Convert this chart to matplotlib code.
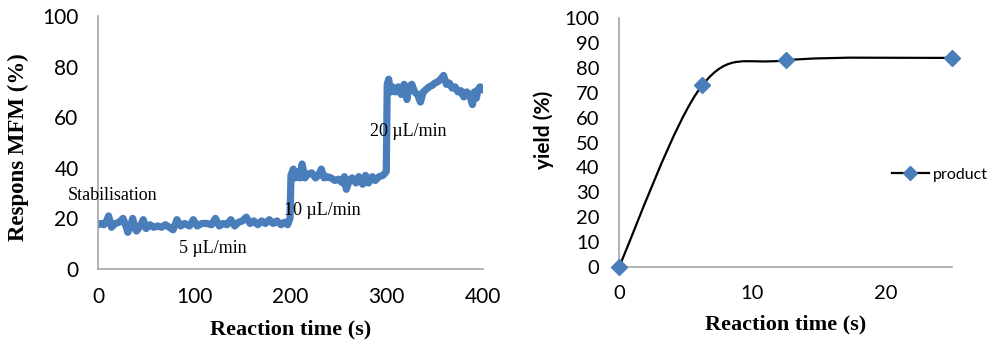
import matplotlib
matplotlib.use("Agg")
import matplotlib.pyplot as plt
import numpy as np
from matplotlib.path import Path
from matplotlib.patches import PathPatch
from matplotlib.lines import Line2D

# Left panel: MFM response over time
resp_t = [0, 3, 6, 9, 11, 14, 18, 22, 26, 29, 31, 34, 36, 38, 40, 44, 47, 50, 54, 58,
          62, 66, 70, 74, 78, 82, 86, 90, 95, 99, 103, 108, 113, 118, 122, 126, 130,
          134, 138, 142, 146, 150, 154, 158, 162, 166, 170, 174, 178, 182, 186, 190,
          194, 197, 199.5,
          200.5, 203, 205, 207, 210, 212, 215, 218, 222, 226, 229, 232, 235, 238, 242,
          246, 250, 254, 256, 258, 261, 264, 268, 271, 275, 278, 281, 285, 288, 292,
          296, 299.5,
          300.5, 302, 304, 306, 309, 312, 315, 318, 321, 323, 326, 329, 332, 335, 338,
          341, 344, 347, 350, 353, 356, 359, 362, 365, 368, 371, 374, 377, 380, 383,
          386, 389, 391, 393, 395, 397, 400]
resp_v = [17.5, 18, 17.5, 19, 21, 16.5, 18, 18.5, 20, 17, 14.5, 17, 20, 17, 15, 17, 19.5, 16, 17.5, 16.5,
          17, 16.5, 17.5, 16.5, 15.5, 19.5, 17, 18, 17, 19.5, 17, 18, 18, 17.5, 20, 17, 18,
          17.5, 19.5, 17, 18.5, 19, 20.5, 18, 19, 17.5, 19, 18, 19.5, 18, 19, 17.5,
          18.5, 17.5, 20,
          37, 39.5, 36, 38.5, 36, 41.5, 36, 37.5, 38, 36, 37, 39.5, 36, 36.5, 36,
          35, 35.5, 34, 36.5, 31.5, 35, 36, 34, 36.5, 33.5, 37, 34, 36.5, 35, 36.5,
          37, 38.5,
          73, 75, 70, 72, 70, 72, 69, 73, 67, 72, 73, 70, 69, 66, 70,
          71, 72, 72.5, 73.5, 74, 75, 76.5, 73, 73.5, 71.5, 72, 70, 70.5, 68, 70,
          69, 65, 70, 67.5, 71, 72, 71]

# Right panel: product yield
yield_t = [0, 6.25, 12.5, 25]
yield_v = [0, 73, 83, 84]

blue = "#4a7ebb"
axis_grey = "#a6a6a6"
tick_font = "Lato"
serif = "Liberation Serif"


def excel_smooth_path(x, y):
    # Bezier smoothing similar to Excel's "smoothed line"
    pts = np.column_stack([x, y]).astype(float)
    n = len(pts)
    verts = [pts[0]]
    codes = [Path.MOVETO]
    for i in range(n - 1):
        p0 = pts[max(i - 1, 0)]
        p1 = pts[i]
        p2 = pts[i + 1]
        p3 = pts[min(i + 2, n - 1)]
        c1 = p1 + (p2 - p0) / 6.0
        c2 = p2 - (p3 - p1) / 6.0
        verts += [c1, c2, p2]
        codes += [Path.CURVE4] * 3
    return Path(verts, codes)


def style_axes(ax, size):
    for side in ["top", "right"]:
        ax.spines[side].set_visible(False)
    for side in ["left", "bottom"]:
        ax.spines[side].set_color(axis_grey)
        ax.spines[side].set_linewidth(1.2)
    ax.tick_params(axis="y", length=0, pad=14, labelsize=size)
    ax.tick_params(axis="x", length=0, pad=13, labelsize=size)
    for lab in ax.get_xticklabels() + ax.get_yticklabels():
        lab.set_fontfamily(tick_font)


fig = plt.figure(figsize=(10, 3.48), dpi=100)

# ---- left panel
ax1 = fig.add_axes([0.098, 0.227, 0.385, 0.727])
ax1.plot(resp_t, resp_v, color=blue, lw=5.2, solid_joinstyle="round")
ax1.set_xlim(0, 400)
ax1.set_ylim(0, 100)
ax1.set_xticks([0, 100, 200, 300, 400])
ax1.set_yticks([0, 20, 40, 60, 80, 100])
style_axes(ax1, 15)
ax1.set_xlabel("Reaction time (s)", fontfamily=serif, fontweight="bold", fontsize=16, labelpad=9)
ax1.set_ylabel("Respons MFM (%)", fontfamily=serif, fontweight="bold", fontsize=16.5)
ax1.yaxis.set_label_coords(-0.18, 0.48)
ann_kw = dict(fontfamily=serif, fontsize=13, ha="center", va="center")
ax1.text(15, 29, "Stabilisation", clip_on=False, **ann_kw)
ax1.text(119, 8.2, "5 µL/min", **ann_kw)
ax1.text(233, 23, "10 µL/min", **ann_kw)
ax1.text(322, 54.5, "20 µL/min", **ann_kw)

# ---- right panel
ax2 = fig.add_axes([0.619, 0.233, 0.333, 0.715])
ax2.add_patch(PathPatch(excel_smooth_path(yield_t, yield_v), facecolor="none",
                        edgecolor="black", lw=1.6))
ax2.plot(yield_t, yield_v, ls="none", marker="D", ms=8, color=blue, clip_on=False, zorder=3)
ax2.set_xlim(0, 25)
ax2.set_ylim(0, 100)
ax2.set_xticks([0, 10, 20])
ax2.set_yticks(range(0, 101, 10))
style_axes(ax2, 14.5)
ax2.set_xlabel("Reaction time (s)", fontfamily=serif, fontweight="bold", fontsize=16, labelpad=9)
ax2.set_ylabel("yield (%)", fontfamily=tick_font, fontweight="bold", fontsize=15)
ax2.yaxis.set_label_coords(-0.195, 0.55)
handle = Line2D([], [], color="black", lw=1.6, marker="D", ms=7,
                markerfacecolor=blue, markeredgecolor=blue)
ax2.legend([handle], ["product"], loc="center left", bbox_to_anchor=(0.82, 0.37),
           frameon=False, prop={"family": tick_font, "size": 11.5},
           handlelength=2.3, handletextpad=0.25, borderpad=0, borderaxespad=0)

fig.savefig("out.png", dpi=100)
